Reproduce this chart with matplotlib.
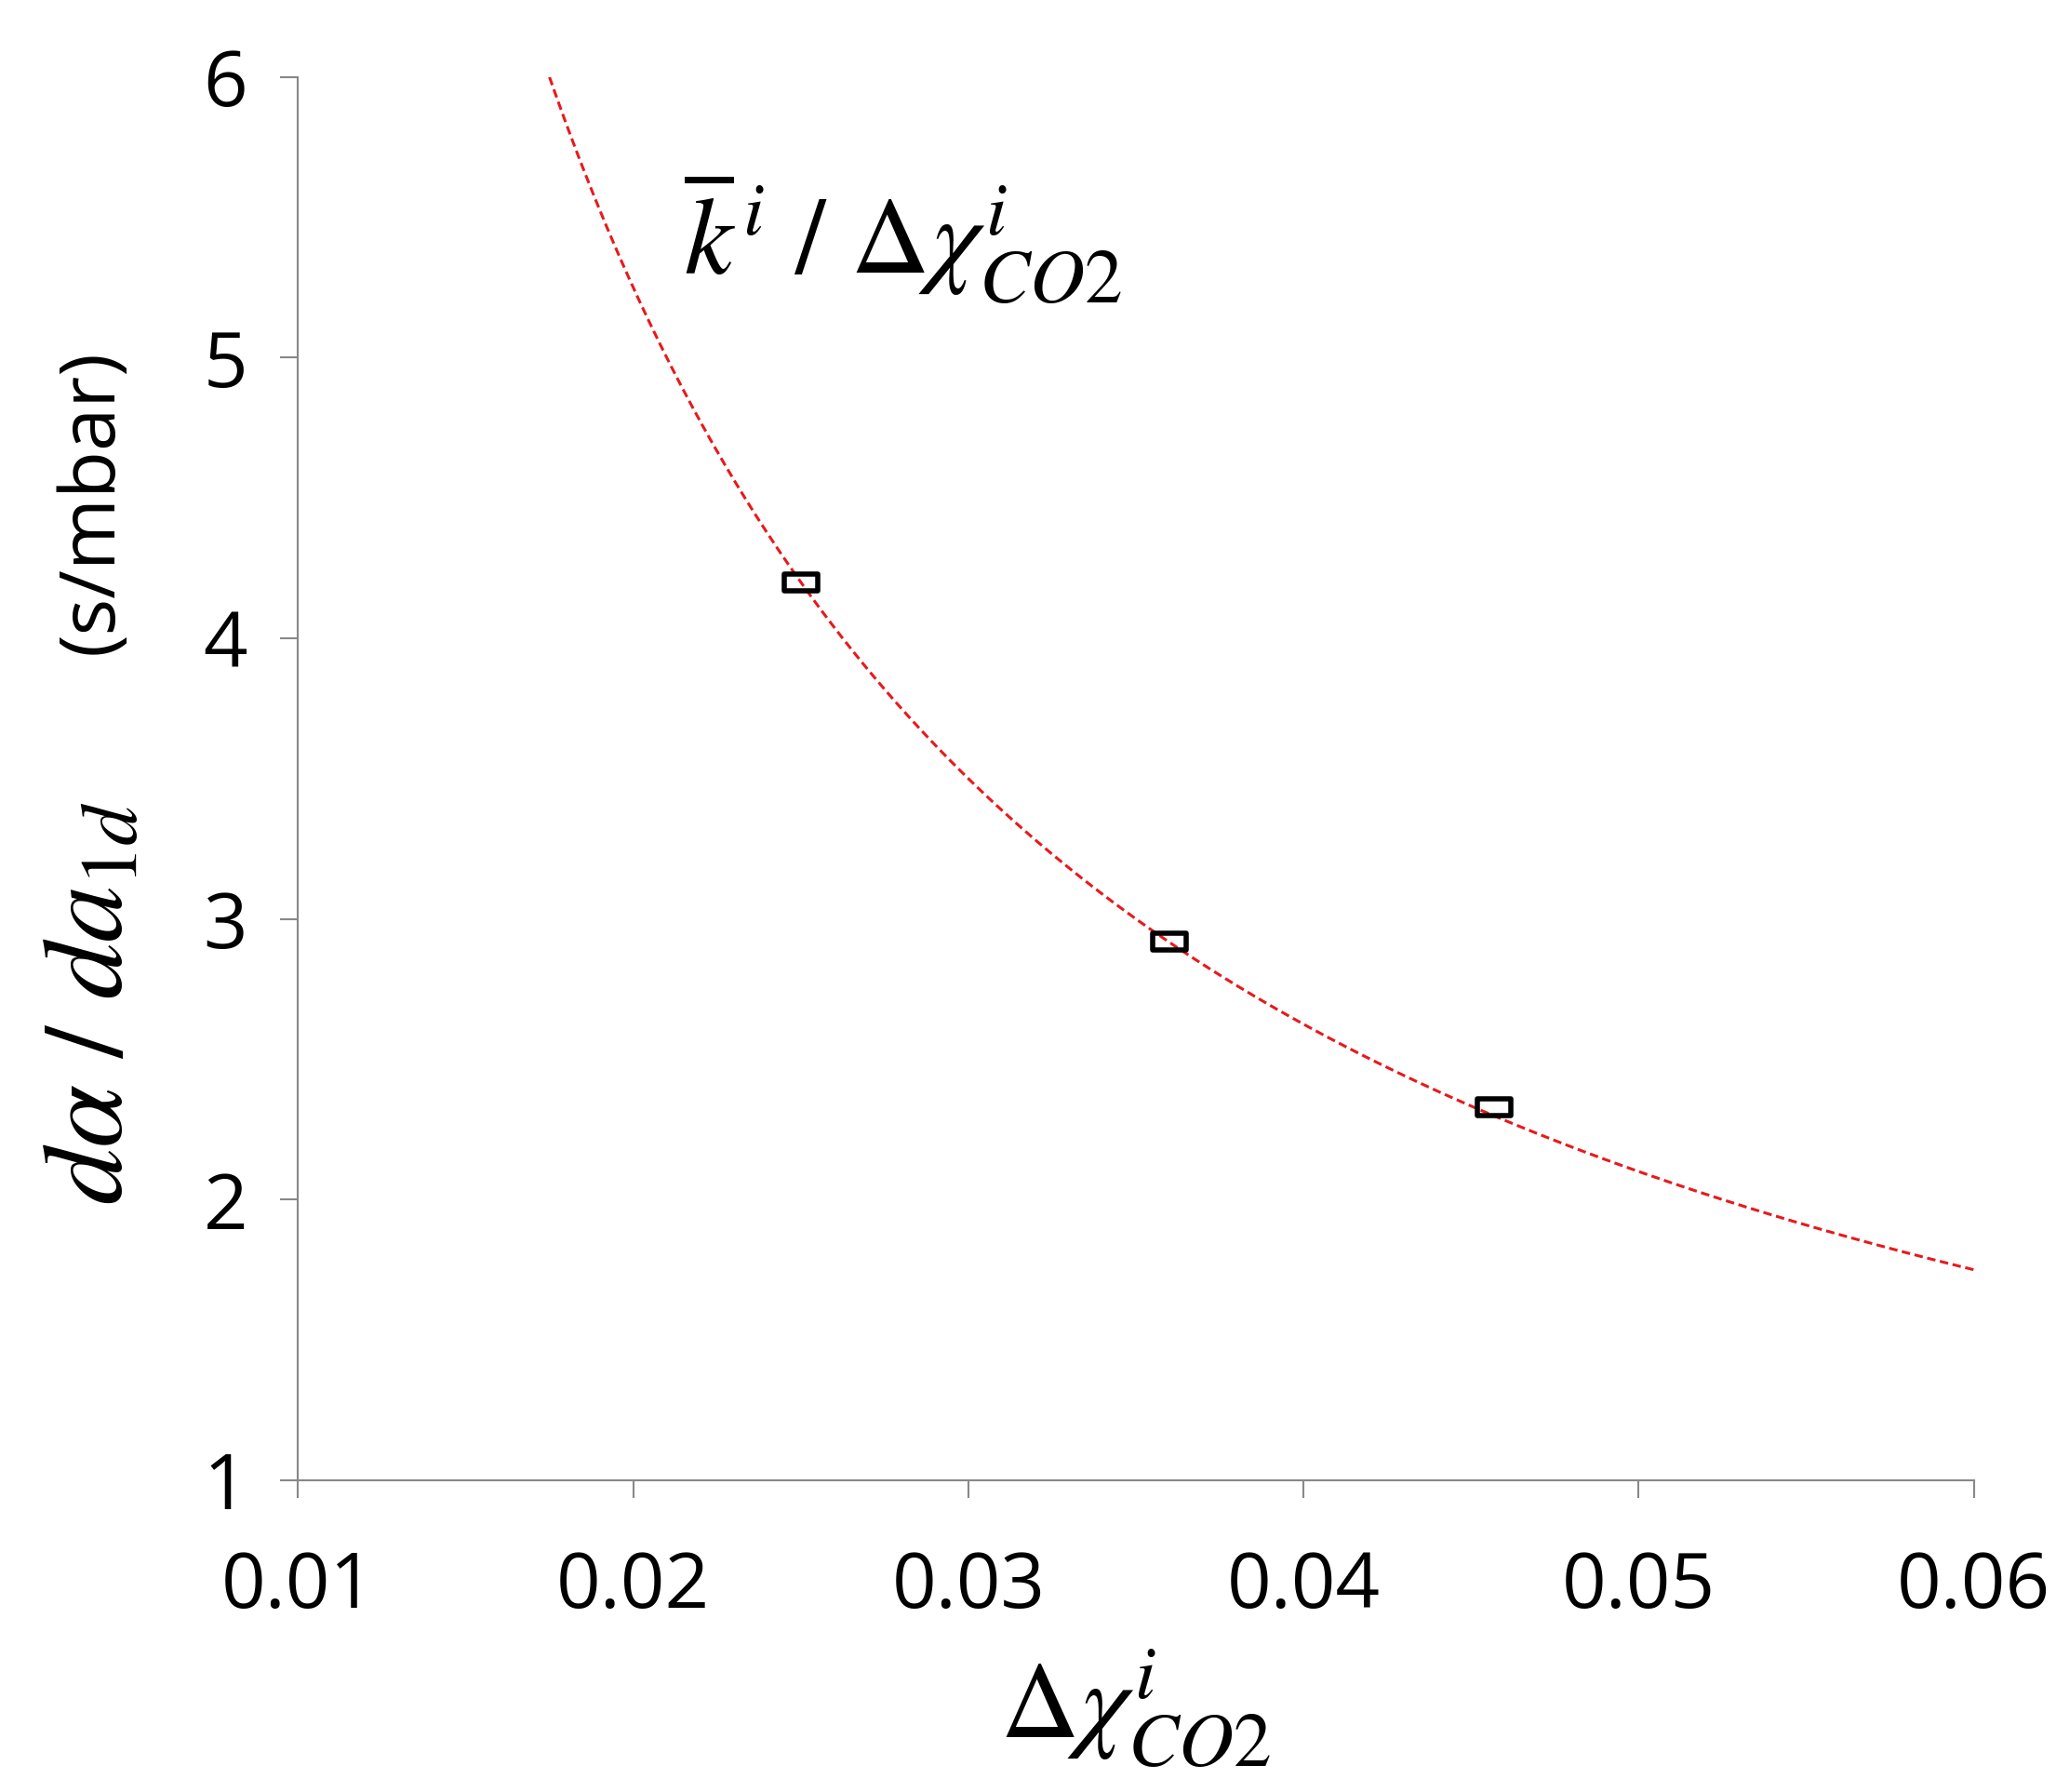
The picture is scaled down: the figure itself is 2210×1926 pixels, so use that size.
import numpy as np
import matplotlib
matplotlib.use("Agg")
import matplotlib.pyplot as plt
from matplotlib.path import Path

plt.rcParams['font.family'] = ['Open Sans', 'DejaVu Sans']
plt.rcParams['mathtext.fontset'] = 'stix'

x_pts = [0.0250, 0.0360, 0.0457]
y_pts = [4.20, 2.92, 2.33]
k_fit = 0.105
x_fit_range = [0.0175, 0.060]

fig = plt.figure(figsize=(22.10, 19.26), dpi=100)
ax = fig.add_axes([0.145, 0.174, 0.815, 0.783])

xf = np.linspace(x_fit_range[0], x_fit_range[1], 400)
ax.plot(xf, k_fit / xf, color='#e8191c', ls=(0, (3, 1.6)), lw=2.2)
rect = Path([(-1, -0.5), (1, -0.5), (1, 0.5), (-1, 0.5), (-1, -0.5)],
            [Path.MOVETO, Path.LINETO, Path.LINETO, Path.LINETO, Path.CLOSEPOLY])
ax.plot(x_pts, y_pts, ls='none', marker=rect, markersize=26, markerfacecolor='none',
        markeredgecolor='black', markeredgewidth=4)

ax.set_xlim(0.01, 0.06)
ax.set_ylim(1, 6)
ax.set_xticks([0.01, 0.02, 0.03, 0.04, 0.05, 0.06])
ax.set_xticklabels(['0.01', '0.02', '0.03', '0.04', '0.05', '0.06'])
ax.set_yticks([1, 2, 3, 4, 5, 6])
for s in ['top', 'right']:
    ax.spines[s].set_visible(False)
for s in ['left', 'bottom']:
    ax.spines[s].set_color('#888888')
    ax.spines[s].set_linewidth(1.5)
ax.tick_params(axis='both', direction='out', length=14, width=1.5, color='#888888',
               labelsize=60)
ax.tick_params(axis='x', pad=40)
ax.tick_params(axis='y', pad=25)

ax.set_xlabel(r'$\Delta\chi^{i}_{CO2}$', fontsize=84, labelpad=15)
ax.set_ylabel(r'$d\alpha\ /\ da_{1d}$' + r'$\ \ \ $' + '(s/mbar)', fontsize=60, labelpad=30)
# enlarge math part by separate texts
ax.yaxis.label.set_visible(False)
fig.text(0.045, 0.44, r'$d\alpha\ /\ da_{1d}$', fontsize=88, rotation=90, ha='center', va='center')
fig.text(0.045, 0.72, '(s/mbar)', fontsize=60, rotation=90, ha='center', va='center')
ax.text(0.0215, 5.3, r'$\overline{k}^{\,i}\ /\ \Delta\chi^{i}_{CO2}$', fontsize=84)

fig.savefig('out.png', dpi=100)
